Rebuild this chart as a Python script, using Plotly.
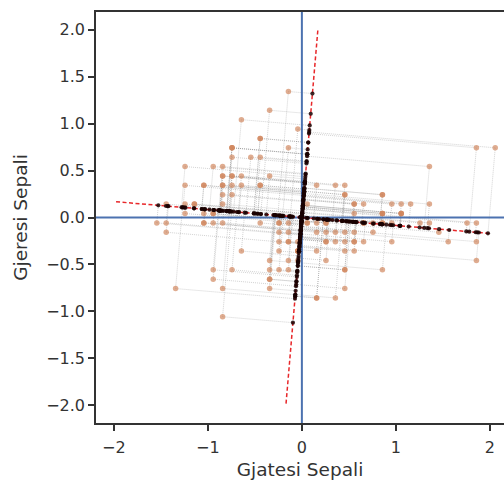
import numpy as np
import plotly.graph_objects as go

sepal_length = [5.1,4.9,4.7,4.6,5.0,5.4,4.6,5.0,4.4,4.9,5.4,4.8,4.8,4.3,5.8,5.7,5.4,5.1,5.7,5.1,5.4,5.1,4.6,5.1,4.8,5.0,5.0,5.2,5.2,4.7,4.8,5.4,5.2,5.5,4.9,5.0,5.5,4.9,4.4,5.1,5.0,4.5,4.4,5.0,5.1,4.8,5.1,4.6,5.3,5.0,
                7.0,6.4,6.9,5.5,6.5,5.7,6.3,4.9,6.6,5.2,5.0,5.9,6.0,6.1,5.6,6.7,5.6,5.8,6.2,5.6,5.9,6.1,6.3,6.1,6.4,6.6,6.8,6.7,6.0,5.7,5.5,5.5,5.8,6.0,5.4,6.0,6.7,6.3,5.6,5.5,5.5,6.1,5.8,5.0,5.6,5.7,5.7,6.2,5.1,5.7,
                6.3,5.8,7.1,6.3,6.5,7.6,4.9,7.3,6.7,7.2,6.5,6.4,6.8,5.7,5.8,6.4,6.5,7.7,7.7,6.0,6.9,5.6,7.7,6.3,6.7,7.2,6.2,6.1,6.4,7.2,7.4,7.9,6.4,6.3,6.1,7.7,6.3,6.4,6.0,6.9,6.7,6.9,5.8,6.8,6.7,6.7,6.3,6.5,6.2,5.9]
sepal_width = [3.5,3.0,3.2,3.1,3.6,3.9,3.4,3.4,2.9,3.1,3.7,3.4,3.0,3.0,4.0,4.4,3.9,3.5,3.8,3.8,3.4,3.7,3.6,3.3,3.4,3.0,3.4,3.5,3.4,3.2,3.1,3.4,4.1,4.2,3.1,3.2,3.5,3.6,3.0,3.4,3.5,2.3,3.2,3.5,3.8,3.0,3.8,3.2,3.7,3.3,
               3.2,3.2,3.1,2.3,2.8,2.8,3.3,2.4,2.9,2.7,2.0,3.0,2.2,2.9,2.9,3.1,3.0,2.7,2.2,2.5,3.2,2.8,2.5,2.8,2.9,3.0,2.8,3.0,2.9,2.6,2.4,2.4,2.7,2.7,3.0,3.4,3.1,2.3,3.0,2.5,2.6,3.0,2.6,2.3,2.7,3.0,2.9,2.9,2.5,2.8,
               3.3,2.7,3.0,2.9,3.0,3.0,2.5,2.9,2.5,3.6,3.2,2.7,3.0,2.5,2.8,3.2,3.0,3.8,2.6,2.2,3.2,2.8,2.8,2.7,3.3,3.2,2.8,3.0,2.8,3.0,2.8,3.8,2.8,2.8,2.6,3.0,3.4,3.1,3.0,3.1,3.1,3.1,2.7,3.2,3.3,3.0,2.5,3.0,3.4,3.0]

x_ticks = [-2, -1, 0, 1, 2]
y_ticks = [-2.0, -1.5, -1.0, -0.5, 0.0, 0.5, 1.0, 1.5, 2.0]
x_label = "Gjatesi Sepali"
y_label = "Gjeresi Sepali"

X = np.column_stack([sepal_length, sepal_width])
Xc = X - X.mean(axis=0)
cov = np.cov(Xc.T)
vals, vecs = np.linalg.eigh(cov)
order = np.argsort(vals)[::-1]
vecs = vecs[:, order]

# projections onto principal directions
projs = []
for k in range(2):
    v = vecs[:, k]
    projs.append(np.outer(Xc @ v, v))

# connector lines
lx, ly = [], []
for P in projs:
    for p, q in zip(Xc, P):
        lx += [p[0], q[0], None]
        ly += [p[1], q[1], None]

fig = go.Figure()
fig.add_trace(go.Scatter(x=lx, y=ly, mode="lines",
                         line=dict(color="rgba(110,110,110,0.45)", width=0.7, dash="1px,1px"),
                         hoverinfo="skip", showlegend=False))
# blue axes
fig.add_trace(go.Scatter(x=[-2.19, 2.19], y=[0, 0], mode="lines",
                         line=dict(color="#4c72b0", width=2), showlegend=False))
fig.add_trace(go.Scatter(x=[0, 0], y=[-2.19, 2.19], mode="lines",
                         line=dict(color="#4c72b0", width=2), showlegend=False))
# PC lines
for k in range(2):
    v = vecs[:, k]
    fig.add_trace(go.Scatter(x=[-2 * v[0], 2 * v[0]], y=[-2 * v[1], 2 * v[1]], mode="lines",
                             line=dict(color="#e8272a", width=1.5, dash="4px,2.5px"), showlegend=False))
fig.add_trace(go.Scatter(x=Xc[:, 0], y=Xc[:, 1], mode="markers",
                         marker=dict(color="rgba(208,132,92,0.68)", size=5.5), showlegend=False))
for P in projs:
    fig.add_trace(go.Scatter(x=P[:, 0], y=P[:, 1], mode="markers",
                             marker=dict(color="rgba(25,0,0,0.85)", size=4.2), showlegend=False))

axis_common = dict(showgrid=False, zeroline=False, showline=True, linecolor="#333333", linewidth=1.5,
                   ticks="outside", ticklen=6, tickwidth=1.5, tickcolor="#333333",
                   tickfont=dict(family="DejaVu Sans", size=16, color="#333333"),
                   title_font=dict(family="DejaVu Sans", size=18.5, color="#333333"))

fig.update_layout(
    width=504, height=485,
    margin=dict(l=96, r=0, t=12, b=62),
    plot_bgcolor="white", paper_bgcolor="white",
    xaxis=dict(range=[-2.19, 2.15], tickvals=x_ticks, ticktext=["\u22122", "\u22121", "0", "1", "2"],
               title=dict(text=x_label, standoff=7), mirror=True, ticklabelstandoff=3, **axis_common),
    yaxis=dict(range=[-2.19, 2.19], tickvals=y_ticks,
               ticktext=[("\u2212" if t < 0 else "") + f"{abs(t):.1f}" for t in y_ticks],
               title=dict(text=y_label, standoff=14), **axis_common),
)
fig.write_html("out.html")
